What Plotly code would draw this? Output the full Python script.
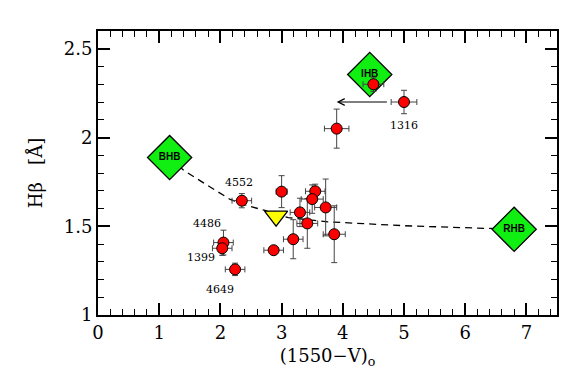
import plotly.graph_objects as go

# Red data points: (1550-V)o colour, Hbeta, errors
pt_x = [4.50, 5.00, 3.90, 2.35, 3.00, 3.55, 3.50, 3.72, 3.30, 3.42, 2.05, 2.03, 2.87, 3.19, 3.86, 2.24]
pt_y = [2.30, 2.20, 2.05, 1.644, 1.695, 1.697, 1.653, 1.606, 1.578, 1.516, 1.408, 1.376, 1.365, 1.427, 1.455, 1.257]
pt_xerr = [0.17, 0.21, 0.20, 0.16, 0.09, 0.16, 0.18, 0.18, 0.16, 0.17, 0.16, 0.16, 0.16, 0.16, 0.18, 0.16]
pt_yerr = [0.04, 0.066, 0.11, 0.04, 0.09, 0.04, 0.08, 0.16, 0.08, 0.14, 0.07, 0.04, 0.02, 0.11, 0.16, 0.035]

# Horizontal-branch reference models
hb_x = [1.17, 4.44, 6.80]
hb_y = [1.887, 2.355, 1.483]
hb_labels = ["BHB", "IHB", "RHB"]

# Yellow triangle
tri_x = [2.91]
tri_y = [1.557]

# Dashed model curve
curve_x = [1.17, 1.40, 1.80, 2.16, 2.45, 2.73, 2.91, 3.11, 3.76, 5.00, 6.80]
curve_y = [1.887, 1.815, 1.728, 1.651, 1.615, 1.589, 1.565, 1.549, 1.525, 1.503, 1.483]

# Cluster labels
lab_text = ["4552", "4486", "1399", "4649", "1316"]
lab_x = [2.30, 1.78, 1.69, 1.99, 5.00]
lab_y = [1.748, 1.516, 1.323, 1.144, 2.066]

# Arrow (upper limit) from 1316
arrow_from = (4.77, 2.20)
arrow_to = (3.90, 2.20)

serif = "DejaVu Serif"

fig = go.Figure()

fig.add_trace(go.Scatter(
    x=curve_x, y=curve_y, mode="lines",
    line=dict(color="black", width=1.3, dash="7px,5px"),
    hoverinfo="skip", showlegend=False))

fig.add_trace(go.Scatter(
    x=hb_x, y=hb_y, mode="markers+text", text=hb_labels,
    textposition="middle center",
    textfont=dict(family="Liberation Sans", size=10, color="black", weight="bold"),
    marker=dict(symbol="diamond", size=34, color="#11ee11",
                line=dict(color="black", width=1.3)),
    showlegend=False))

fig.add_trace(go.Scatter(
    x=tri_x, y=tri_y, mode="markers",
    marker=dict(symbol="triangle-down", size=20, color="#ffff00",
                line=dict(color="black", width=1.3)),
    showlegend=False))

fig.add_trace(go.Scatter(
    x=pt_x, y=pt_y, mode="markers",
    error_x=dict(type="data", array=pt_xerr, color="#444444", thickness=1, width=3),
    error_y=dict(type="data", array=pt_yerr, color="#444444", thickness=1, width=3),
    marker=dict(symbol="circle", size=11, color="#ff0000",
                line=dict(color="black", width=1)),
    showlegend=False))

for t, x, y in zip(lab_text, lab_x, lab_y):
    fig.add_annotation(x=x, y=y, text=t, showarrow=False,
                       font=dict(family=serif, size=11, color="black"))

fig.add_annotation(x=arrow_to[0], y=arrow_to[1], ax=arrow_from[0], ay=arrow_from[1],
                   xref="x", yref="y", axref="x", ayref="y", text=" ",
                   showarrow=True, arrowhead=5, arrowsize=1.3, arrowwidth=1,
                   arrowcolor="black")

axis_common = dict(
    showline=True, linecolor="black", linewidth=2, mirror="allticks",
    ticks="inside", ticklen=12, tickwidth=1.5, tickcolor="black",
    showgrid=False, zeroline=False,
    tickfont=dict(family=serif, size=18, color="black"),
)

fig.update_xaxes(range=[0, 7.5], dtick=1, tick0=0,
                 minor=dict(dtick=0.2, ticks="inside", ticklen=6, tickwidth=1.2, tickcolor="black"),
                 title=dict(text="(1550\u2212V)<sub>o</sub>", font=dict(family=serif, size=18, color="black"),
                            standoff=8),
                 **axis_common)
fig.update_yaxes(range=[1, 2.6], dtick=0.5, tick0=1,
                 minor=dict(dtick=0.1, ticks="inside", ticklen=6, tickwidth=1.2, tickcolor="black"),
                 title=dict(text="H\u03b2\u00a0\u00a0\u00a0[\u00c5]", font=dict(family=serif, size=18, color="black"),
                            standoff=16),
                 **axis_common)

fig.update_layout(
    width=573, height=379,
    margin=dict(l=90, r=24, t=23, b=72),
    plot_bgcolor="white", paper_bgcolor="white",
    showlegend=False,
)

fig.write_html("out.html")
